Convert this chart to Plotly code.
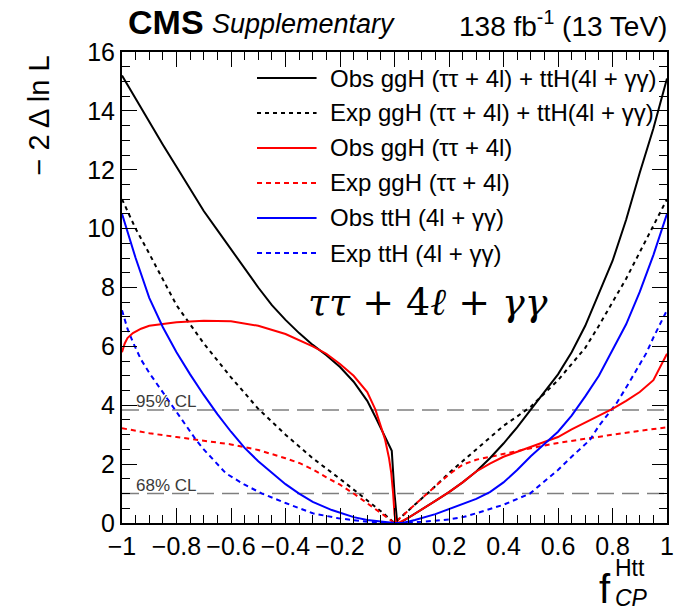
import plotly.graph_objects as go

# ---------------------------------------------------------------- data
# Observed, ggH (tautau + 4l) + ttH (4l + gamgam)
obs_comb_x = [-1.0, -0.95, -0.9, -0.85, -0.8, -0.75, -0.7, -0.65, -0.6, -0.55, -0.5, -0.45, -0.4,
              -0.35, -0.3, -0.25, -0.2, -0.15, -0.1, -0.07, -0.04, -0.02, -0.01, 0.0, 0.01, 0.02,
              0.05, 0.1, 0.15, 0.2, 0.25, 0.3, 0.35, 0.4, 0.45, 0.5, 0.55, 0.6, 0.65, 0.7, 0.75,
              0.8, 0.85, 0.9, 0.95, 1.0]
obs_comb_y = [15.2, 14.4, 13.6, 12.85, 12.1, 11.35, 10.6, 9.95, 9.3, 8.65, 8.0, 7.4, 6.9,
              6.45, 6.05, 5.7, 5.3, 4.8, 4.15, 3.6, 3.0, 2.6, 2.45, 1.0, 0.0, 0.0,
              0.17, 0.45, 0.75, 1.05, 1.38, 1.75, 2.2, 2.7, 3.25, 3.85, 4.45, 5.05, 5.8, 6.7, 7.8,
              8.9, 10.3, 11.9, 13.4, 15.1]

# Expected, ggH (tautau + 4l) + ttH (4l + gamgam)
exp_comb_x = [-1.0, -0.95, -0.9, -0.85, -0.8, -0.75, -0.7, -0.6, -0.5, -0.4, -0.3, -0.2, -0.133,
              -0.1, -0.05, 0.0, 0.05, 0.1, 0.15, 0.2, 0.25, 0.3, 0.35, 0.4, 0.45, 0.5, 0.55, 0.6,
              0.65, 0.7, 0.75, 0.8, 0.85, 0.9, 0.95, 1.0]
exp_comb_y = [11.0, 10.0, 9.15, 8.3, 7.4, 6.75, 6.1, 4.95, 3.88, 3.0, 2.2, 1.5, 1.0,
              0.78, 0.4, 0.0, 0.42, 0.82, 1.25, 1.7, 2.1, 2.5, 2.9, 3.3, 3.62, 3.95, 4.4, 4.85,
              5.4, 5.95, 6.7, 7.5, 8.3, 9.2, 10.1, 11.0]

# Observed, ggH (tautau + 4l)
obs_ggh_x = [-1.0, -0.99, -0.98, -0.96, -0.93, -0.9, -0.8, -0.7, -0.6, -0.5, -0.4, -0.35, -0.3,
             -0.25, -0.2, -0.15, -0.1, -0.07, -0.05, -0.035, -0.02, -0.012, -0.005, 0.0, 0.005,
             0.02, 0.05, 0.1, 0.15, 0.2, 0.25, 0.3, 0.35, 0.4, 0.45, 0.5, 0.55, 0.6, 0.65, 0.7,
             0.75, 0.8, 0.85, 0.9, 0.95, 0.97, 1.0]
obs_ggh_y = [5.8, 6.1, 6.28, 6.45, 6.6, 6.7, 6.82, 6.87, 6.85, 6.7, 6.42, 6.22, 6.0,
             5.75, 5.4, 5.0, 4.45, 3.85, 3.3, 2.85, 2.2, 1.7, 1.0, 0.3, 0.0,
             0.03, 0.17, 0.45, 0.75, 1.05, 1.38, 1.75, 2.02, 2.25, 2.42, 2.58, 2.76, 2.92, 3.18,
             3.42, 3.64, 3.88, 4.15, 4.45, 4.85, 5.2, 5.75]

# Expected, ggH (tautau + 4l)
exp_ggh_x = [-1.0, -0.9, -0.8, -0.7, -0.6, -0.5, -0.45, -0.4, -0.35, -0.3, -0.25, -0.2, -0.15,
             -0.1, -0.05, 0.0, 0.05, 0.1, 0.15, 0.2, 0.25, 0.3, 0.35, 0.4, 0.5, 0.6, 0.7, 0.8,
             0.9, 1.0]
exp_ggh_y = [3.22, 3.05, 2.92, 2.8, 2.67, 2.48, 2.35, 2.2, 2.04, 1.82, 1.55, 1.3, 1.0,
             0.68, 0.34, 0.0, 0.42, 0.85, 1.25, 1.65, 1.98, 2.15, 2.25, 2.36, 2.54, 2.72, 2.87,
             3.0, 3.13, 3.25]

# Observed, ttH (4l + gamgam)
obs_tth_x = [-1.0, -0.95, -0.9, -0.85, -0.8, -0.75, -0.7, -0.65, -0.6, -0.55, -0.5, -0.45, -0.4,
             -0.35, -0.3, -0.23, -0.15, -0.1, -0.05, 0.0, 0.03, 0.075, 0.15, 0.2, 0.25, 0.3, 0.35,
             0.4, 0.45, 0.5, 0.55, 0.6, 0.65, 0.7, 0.75, 0.8, 0.85, 0.9, 0.95, 1.0]
obs_tth_y = [10.5, 9.0, 7.65, 6.65, 5.8, 5.05, 4.35, 3.7, 3.1, 2.55, 2.1, 1.7, 1.32,
             1.0, 0.72, 0.44, 0.2, 0.1, 0.04, 0.0, 0.0, 0.1, 0.3, 0.48, 0.66, 0.82, 1.05,
             1.38, 1.8, 2.27, 2.68, 3.1, 3.65, 4.3, 5.0, 5.85, 6.75, 7.85, 9.1, 10.5]

# Expected, ttH (4l + gamgam)
exp_tth_x = [-1.0, -0.98, -0.958, -0.93, -0.9, -0.837, -0.8, -0.728, -0.7, -0.619, -0.55, -0.486,
             -0.4, -0.352, -0.3, -0.206, -0.1, 0.0, 0.1, 0.2, 0.256, 0.3, 0.4, 0.497, 0.55, 0.6,
             0.65, 0.717, 0.75, 0.815, 0.85, 0.924, 0.95, 1.0]
exp_tth_y = [7.23, 6.6, 6.1, 5.55, 5.1, 4.28, 3.8, 2.82, 2.5, 1.69, 1.3, 1.0,
             0.68, 0.5, 0.33, 0.16, 0.04, 0.0, 0.04, 0.12, 0.21, 0.33, 0.62, 1.0, 1.4, 1.8,
             2.25, 2.82, 3.3, 4.07, 4.6, 5.77, 6.3, 7.23]

series_names = ["Obs ggH (ττ + 4l) + ttH(4l + γγ)", "Exp ggH (ττ + 4l) + ttH(4l + γγ)",
                "Obs ggH (ττ + 4l)", "Exp ggH (ττ + 4l)",
                "Obs ttH (4l + γγ)", "Exp ttH (4l + γγ)"]
series_x = [obs_comb_x, exp_comb_x, obs_ggh_x, exp_ggh_x, obs_tth_x, exp_tth_x]
series_y = [obs_comb_y, exp_comb_y, obs_ggh_y, exp_ggh_y, obs_tth_y, exp_tth_y]

cl_levels = [1.0, 3.84]
cl_labels = ["68% CL", "95% CL"]

x_tick_vals = [-1, -0.8, -0.6, -0.4, -0.2, 0, 0.2, 0.4, 0.6, 0.8, 1]
x_tick_text = ["\u22121", "\u22120.8", "\u22120.6", "\u22120.4", "\u22120.2", "0",
               "0.2", "0.4", "0.6", "0.8", "1"]
y_tick_vals = [0, 2, 4, 6, 8, 10, 12, 14, 16]

# ---------------------------------------------------------------- style
W, H = 686, 615
L, R, T, B = 122, 15, 52, 92
PW, PH = W - L - R, H - T - B

def px(xp):
    return (xp - L) / PW

def py(yp):
    return 1 - (yp - T) / PH

colors = ["black", "black", "#ff0000", "#ff0000", "#0000ff", "#0000ff"]
dashes = ["solid", "4px,4px", "solid", "5px,4px", "solid", "5px,4px"]
SANS = "Liberation Sans, Arial, Helvetica, sans-serif"

fig = go.Figure()

# confidence-level reference lines
for lvl, lab in zip(cl_levels, cl_labels):
    fig.add_shape(type="line", xref="x", yref="y", x0=-1, x1=1, y0=lvl, y1=lvl,
                  line=dict(color="#7f7f7f", width=1.6, dash="17px,8px"), layer="below")
    fig.add_annotation(xref="x", yref="y", x=-0.955, y=lvl, text=lab, showarrow=False,
                       xanchor="left", yanchor="bottom", yshift=-3,
                       font=dict(family=SANS, size=17, color="#3a3a3a"))

# likelihood scans (expected first so observed sit on top)
order = [1, 3, 5, 0, 2, 4]
for i in order:
    fig.add_trace(go.Scatter(x=series_x[i], y=series_y[i], mode="lines", name=series_names[i],
                             line=dict(color=colors[i], width=2, dash=dashes[i]),
                             showlegend=False, hoverinfo="skip"))

# legend rows
leg_x0, leg_x1, leg_text = 258, 318, 330
leg_y0, leg_dy = 78, 35
for i, name in enumerate(series_names):
    yy = py(leg_y0 + i * leg_dy)
    fig.add_shape(type="line", xref="paper", yref="paper", x0=px(leg_x0), x1=px(leg_x1),
                  y0=yy, y1=yy, line=dict(color=colors[i], width=2, dash=dashes[i]))
    fig.add_annotation(xref="paper", yref="paper", x=px(leg_text), y=yy, text=name,
                       showarrow=False, xanchor="left", yanchor="middle",
                       font=dict(family=SANS, size=24, color="black"))

# header
fig.add_annotation(xref="paper", yref="paper", x=px(126), y=py(22), text="<b>CMS</b>",
                   showarrow=False, xanchor="left", yanchor="middle",
                   font=dict(family=SANS, size=34, color="black"))
fig.add_annotation(xref="paper", yref="paper", x=px(211), y=py(24), text="<i>Supplementary</i>",
                   showarrow=False, xanchor="left", yanchor="middle",
                   font=dict(family=SANS, size=27, color="black"))
fig.add_annotation(xref="paper", yref="paper", x=px(673), y=py(24),
                   text="138 fb<sup>-1</sup> (13 TeV)",
                   showarrow=False, xanchor="right", yanchor="middle",
                   font=dict(family=SANS, size=28, color="black"))

# channel label
fig.add_annotation(xref="paper", yref="paper", x=px(430), y=py(302),
                   text="<i>ττ</i> + 4<i>ℓ</i> + <i>γγ</i>",
                   showarrow=False, xanchor="center", yanchor="middle",
                   font=dict(family="DejaVu Serif, serif", size=38, color="black"))

# axis titles
fig.add_annotation(xref="paper", yref="paper", x=px(38), y=py(54), text="\u2212 2 \u0394 ln L",
                   textangle=-90, showarrow=False, xanchor="center", yanchor="top",
                   font=dict(family=SANS, size=29, color="black"))
fig.add_annotation(xref="paper", yref="paper", x=px(617), y=py(589), text="f",
                   showarrow=False, xanchor="right", yanchor="middle",
                   font=dict(family=SANS, size=40, color="black"))
fig.add_annotation(xref="paper", yref="paper", x=px(617), y=py(568), text="Htt",
                   showarrow=False, xanchor="left", yanchor="middle",
                   font=dict(family=SANS, size=23, color="black"))
fig.add_annotation(xref="paper", yref="paper", x=px(617), y=py(598), text="<i>CP</i>",
                   showarrow=False, xanchor="left", yanchor="middle",
                   font=dict(family=SANS, size=23, color="black"))

axis_common = dict(showline=True, linecolor="black", linewidth=2, mirror="allticks",
                   ticks="inside", tickcolor="black", tickwidth=1, showgrid=False,
                   zeroline=False, tickfont=dict(family=SANS, size=25, color="black"))

fig.update_xaxes(range=[-1, 1], tickvals=x_tick_vals, ticktext=x_tick_text, ticklen=15,
                 minor=dict(dtick=0.05, ticks="inside", ticklen=8, tickcolor="black",
                            tickwidth=1, showgrid=False),
                 **axis_common)
fig.update_yaxes(range=[0, 16], tickvals=y_tick_vals, ticklen=15,
                 minor=dict(dtick=0.5, ticks="inside", ticklen=8, tickcolor="black",
                            tickwidth=1, showgrid=False),
                 **axis_common)

fig.update_layout(width=W, height=H, margin=dict(l=L, r=R, t=T, b=B, pad=0),
                  plot_bgcolor="white", paper_bgcolor="white", showlegend=False)

fig.write_html("out.html")
